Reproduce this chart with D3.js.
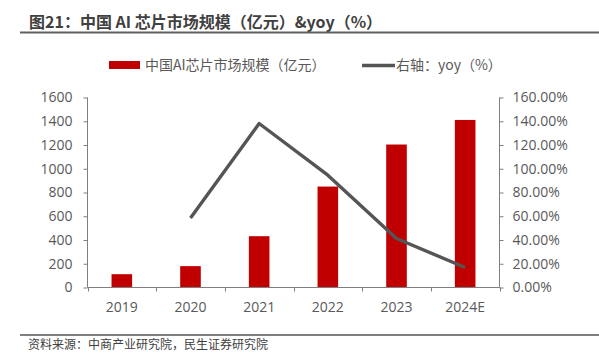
<!DOCTYPE html>
<html><head><meta charset="utf-8">
<script src="https://cdn.jsdelivr.net/npm/d3@7"></script>
<style>
body{margin:0;background:#fff;}
svg{display:block;font-family:"Noto Sans CJK SC","Microsoft YaHei",sans-serif;}
</style></head>
<body>
<svg id="c" width="599" height="361"></svg>
<script>
const categories = ["2019","2020","2021","2022","2023","2024E"];
const marketSize = [112, 180, 432, 850, 1204, 1411];
const yoy = [null, 58.6, 138.1, 94.6, 41.3, 16.8];
const leftTicks = [0,200,400,600,800,1000,1200,1400,1600];
const rightTicks = [0,20,40,60,80,100,120,140,160];
const titleText = "图21：中国 AI 芯片市场规模（亿元）&yoy（%）";
const sourceText = "资料来源：中商产业研究院，民生证券研究院";
const barLabel = "中国AI芯片市场规模（亿元）";
const lineLabel = "右轴：yoy（%）";

const svg = d3.select("#c");
const m = {l:87.5, r:499.5, t:97.5, b:287.5};
const x = d3.scaleBand().domain(categories).range([m.l, m.r]).paddingInner(0.7).paddingOuter(0.35);
const xb = d3.scaleBand().domain(categories).range([m.l, m.r]);
const yL = d3.scaleLinear().domain([0,1600]).range([m.b, m.t]);
const yR = d3.scaleLinear().domain([0,160]).range([m.b, m.t]);
const axisColor = "#7f7f7f", textColor = "#595959";
const numFont = "'Open Sans', 'Noto Sans', sans-serif";

// title
svg.append("text").attr("x",29).attr("y",28).attr("font-size",16).attr("font-weight","bold")
  .attr("fill","#404040").text(titleText);
svg.append("line").attr("x1",20).attr("x2",599).attr("y1",32.5).attr("y2",32.5)
  .attr("stroke","#606060").attr("stroke-width",2);

// bars
svg.append("g").selectAll("rect").data(marketSize).join("rect")
  .attr("x",(d,i)=>x(categories[i])).attr("width",x.bandwidth())
  .attr("y",d=>yL(d)).attr("height",d=>yL(0)-yL(d)).attr("fill","#c00000");

// axes
const gl = svg.append("g").attr("transform",`translate(${m.l},0)`)
  .call(d3.axisLeft(yL).tickValues(leftTicks).tickSize(4).tickPadding(11).tickFormat(d3.format("d")));
const gr = svg.append("g").attr("transform",`translate(${m.r},0)`)
  .call(d3.axisRight(yR).tickValues(rightTicks).tickSize(4).tickPadding(9).tickFormat(d=>d.toFixed(2)+"%"));
const gx = svg.append("g").attr("transform",`translate(0,${m.b})`)
  .call(d3.axisBottom(xb).tickSize(0).tickPadding(15));
// category boundary ticks
svg.append("g").selectAll("line").data(categories.concat(["end"])).join("line")
  .attr("x1",(d,i)=>Math.round(m.l + i*xb.bandwidth())+0.5)
  .attr("x2",(d,i)=>Math.round(m.l + i*xb.bandwidth())+0.5)
  .attr("y1",m.b).attr("y2",m.b+4).attr("stroke",axisColor);
[gl,gr,gx].forEach(g=>{
  g.selectAll(".domain").attr("stroke",axisColor);
  g.selectAll(".tick line").attr("stroke",axisColor);
  g.selectAll("text").attr("fill",textColor).attr("font-size",14).attr("font-family",numFont);
});
gl.select(".domain").attr("d",`M-0,${m.t}H0V${m.b}H-0`);
gr.select(".domain").attr("d",`M0,${m.t}H0V${m.b}H0`);
gx.select(".domain").attr("d",`M${m.l},0H${m.r}`);

// line
const pts = yoy.map((v,i)=>({v, c:categories[i]})).filter(p=>p.v!=null);
svg.append("path").datum(pts)
  .attr("d", d3.line().x(p=>xb(p.c)+xb.bandwidth()/2).y(p=>yR(p.v)))
  .attr("fill","none").attr("stroke","#555555").attr("stroke-width",3.4).attr("stroke-linejoin","round");

// legend
svg.append("rect").attr("x",109).attr("y",61).attr("width",31).attr("height",8).attr("fill","#c00000");
svg.append("text").attr("x",145).attr("y",70).attr("font-size",14).attr("fill",textColor).text(barLabel);
svg.append("line").attr("x1",362).attr("x2",395).attr("y1",65.5).attr("y2",65.5).attr("stroke","#555555").attr("stroke-width",3.4);
svg.append("text").attr("x",396).attr("y",70).attr("font-size",14).attr("fill",textColor).text(lineLabel);

// source
svg.append("line").attr("x1",20).attr("x2",599).attr("y1",335).attr("y2",335)
  .attr("stroke","#7f7f7f").attr("stroke-width",2);
svg.append("text").attr("x",28).attr("y",349).attr("font-size",12).attr("fill","#404040").text(sourceText);
</script>
</body></html>
